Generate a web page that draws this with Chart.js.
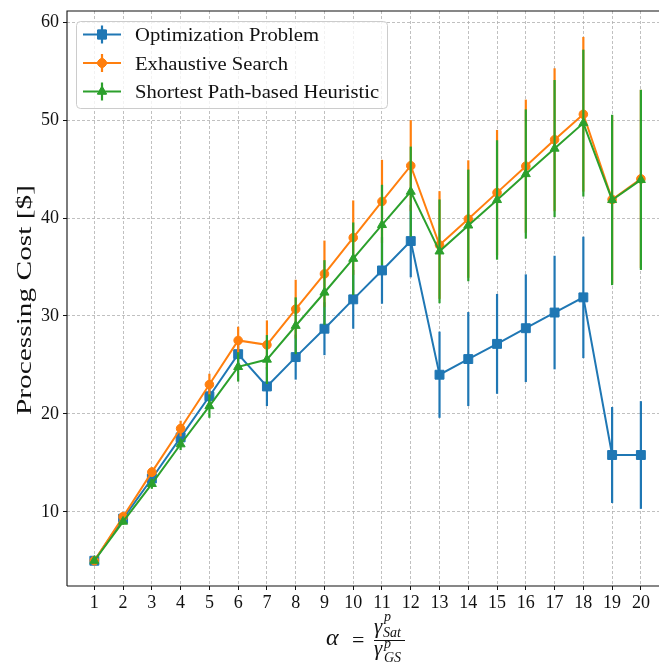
<!DOCTYPE html>
<html>
<head>
<meta charset="utf-8">
<script src="https://cdn.jsdelivr.net/npm/chart.js@4.4.0/dist/chart.umd.min.js"></script>
<style>
  html, body { margin: 0; padding: 0; background: #fff; overflow: hidden; width: 659px; height: 665px; }
  canvas { display: block; }
</style>
</head>
<body>
<canvas id="c" width="659" height="665"></canvas>
<script>
// alpha values on the horizontal axis
const alphaValues = [1, 2, 3, 4, 5, 6, 7, 8, 9, 10, 11, 12, 13, 14, 15, 16, 17, 18, 19, 20];
const yTickValues = [10, 20, 30, 40, 50, 60];

const seriesNames = ['Optimization Problem', 'Exhaustive Search', 'Shortest Path-based Heuristic'];

// mean processing cost per alpha
const optimizationCost = [5.0, 9.3, 13.4, 17.6, 21.8, 26.1, 22.8, 25.8, 28.7, 31.7, 34.65, 37.65, 24.0, 25.6, 27.15, 28.75, 30.35, 31.9, 15.8, 15.8];
const exhaustiveCost   = [5.0, 9.5, 14.05, 18.5, 23.0, 27.5, 27.05, 30.7, 34.3, 38.0, 41.7, 45.35, 37.25, 39.9, 42.6, 45.3, 48.0, 50.6, 41.9, 44.0];
const heuristicCost    = [5.0, 9.0, 12.85, 16.9, 20.8, 24.8, 25.55, 29.0, 32.4, 35.85, 39.3, 42.7, 36.6, 39.25, 41.85, 44.5, 47.1, 49.7, 41.85, 43.9];

// symmetric error (standard deviation) per alpha
const optimizationErr = [0.1, 0.3, 0.5, 0.7, 1.0, 1.3, 2.0, 2.3, 2.7, 3.0, 3.4, 3.7, 4.4, 4.8, 5.1, 5.5, 5.8, 6.2, 4.9, 5.5];
const exhaustiveErr   = [0.1, 0.3, 0.5, 0.8, 1.1, 1.4, 2.5, 3.0, 3.4, 3.8, 4.25, 4.65, 5.5, 6.0, 6.4, 6.8, 7.3, 7.9, 8.6, 9.1];
const heuristicErr    = [0.1, 0.3, 0.5, 0.6, 1.2, 1.5, 2.5, 2.9, 3.3, 3.7, 4.1, 4.6, 5.3, 5.7, 6.1, 6.6, 7.0, 7.5, 8.7, 9.2];

const COLORS = ['#1f77b4', '#ff7f0e', '#2ca02c'];
const MARKERS = ['rect', 'circle', 'triangle'];
const RADII = [6.3, 4.3, 5.2];
const FONT = '"Liberation Serif", "DejaVu Serif", serif';

const means = [optimizationCost, exhaustiveCost, heuristicCost];
const errors = [optimizationErr, exhaustiveErr, heuristicErr];

const datasets = seriesNames.map((name, i) => ({
  label: name,
  data: alphaValues.map((a, j) => ({ x: a, y: means[i][j] })),
  errors: errors[i],
  borderColor: COLORS[i],
  backgroundColor: COLORS[i],
  borderWidth: 2,
  pointStyle: MARKERS[i],
  pointRadius: RADII[i],
  pointBorderWidth: 1,
  pointBorderColor: COLORS[i],
  pointBackgroundColor: COLORS[i],
  tension: 0,
  order: 3 - i
}));

// vertical error bars, drawn just before each series' line and markers
const errorBars = {
  id: 'errorBars',
  beforeDatasetDraw(chart, args) {
    const ds = chart.data.datasets[args.index];
    const xs = chart.scales.x, ys = chart.scales.y;
    const ctx = chart.ctx, area = chart.chartArea;
    ctx.save();
    ctx.beginPath();
    ctx.rect(area.left, area.top, area.right - area.left, area.bottom - area.top);
    ctx.clip();
    ctx.strokeStyle = ds.borderColor;
    ctx.lineWidth = 2.2;
    ds.data.forEach((p, j) => {
      const e = ds.errors[j];
      const x = xs.getPixelForValue(p.x);
      ctx.beginPath();
      ctx.moveTo(x, ys.getPixelForValue(p.y - e));
      ctx.lineTo(x, ys.getPixelForValue(p.y + e));
      ctx.stroke();
    });
    ctx.restore();
  }
};

function drawStretched(ctx, text, x, y, sx) {
  ctx.save();
  ctx.translate(x, y);
  ctx.scale(sx, 1);
  ctx.fillText(text, 0, 0);
  ctx.restore();
}

// axis frame, axis titles and legend
const decorations = {
  id: 'decorations',
  afterDatasetsDraw(chart) {
    const ctx = chart.ctx, a = chart.chartArea;
    ctx.save();
    ctx.strokeStyle = '#111';
    ctx.lineWidth = 1.1;
    ctx.beginPath();
    ctx.moveTo(a.left, a.bottom); ctx.lineTo(a.left, a.top); ctx.lineTo(a.right + 2, a.top);
    ctx.moveTo(a.left, a.bottom); ctx.lineTo(a.right + 2, a.bottom);
    ctx.stroke();
    ctx.restore();
  },
  afterDraw(chart) {
    const ctx = chart.ctx;
    ctx.save();
    ctx.fillStyle = '#111';

    // y axis title
    ctx.font = '22px ' + FONT;
    const yTitle = 'Processing Cost [$]';
    const yw = ctx.measureText(yTitle).width;
    const ysx = 230 / yw;
    ctx.save();
    ctx.translate(31, 300);
    ctx.rotate(-Math.PI / 2);
    ctx.textAlign = 'left';
    ctx.textBaseline = 'alphabetic';
    drawStretched(ctx, yTitle, -115, 0, ysx);
    ctx.restore();

    // x axis title: alpha = gamma^p_Sat / gamma^p_GS
    ctx.textAlign = 'left';
    ctx.textBaseline = 'alphabetic';
    ctx.font = 'italic 24px ' + FONT;
    ctx.fillText('α', 326, 645);
    ctx.font = '22px ' + FONT;
    ctx.fillText('=', 352, 647);
    ctx.lineWidth = 1;
    ctx.strokeStyle = '#111';
    ctx.beginPath();
    ctx.moveTo(374, 640.5); ctx.lineTo(405, 640.5);
    ctx.stroke();
    ctx.font = 'italic 21px ' + FONT;
    ctx.fillText('γ', 374, 633);
    ctx.fillText('γ', 374, 655);
    ctx.font = 'italic 14px ' + FONT;
    ctx.fillText('p', 384, 621);
    ctx.fillText('Sat', 383, 637);
    ctx.fillText('p', 384, 648);
    ctx.fillText('GS', 384, 662);

    // legend
    const lx = 76.5, ly = 21.5, lw = 311, lh = 87;
    ctx.beginPath();
    ctx.roundRect(lx, ly, lw, lh, 4);
    ctx.fillStyle = 'rgba(255,255,255,0.8)';
    ctx.fill();
    ctx.strokeStyle = '#cccccc';
    ctx.lineWidth = 1;
    ctx.stroke();

    ctx.font = '18px ' + FONT;
    const lsx = 184 / ctx.measureText(seriesNames[0]).width;
    const rows = [34.5, 63, 91.5];
    chart.data.datasets.forEach((ds, i) => {
      const yy = rows[i];
      ctx.strokeStyle = ds.borderColor;
      ctx.lineWidth = 2;
      ctx.beginPath();
      ctx.moveTo(83, yy); ctx.lineTo(121, yy);
      ctx.stroke();
      ctx.lineWidth = 2.2;
      ctx.beginPath();
      ctx.moveTo(102, yy - 9); ctx.lineTo(102, yy + 9);
      ctx.stroke();
      ctx.lineWidth = 1;
      ctx.fillStyle = ds.backgroundColor;
      Chart.helpers.drawPoint(ctx, { pointStyle: ds.pointStyle, radius: ds.pointRadius, borderWidth: 1, rotation: 0 }, 102, yy);
      ctx.fill();
      ctx.stroke();
      ctx.fillStyle = '#111';
      ctx.font = '18px ' + FONT;
      drawStretched(ctx, ds.label, 135, yy + 6.5, lsx);
    });
    ctx.restore();
  }
};

new Chart(document.getElementById('c'), {
  type: 'line',
  data: { datasets },
  options: {
    responsive: false,
    animation: false,
    devicePixelRatio: 1,
    layout: { autoPadding: false, padding: { top: 11, left: 0, right: 0, bottom: 0 } },
    plugins: { legend: { display: false }, tooltip: { enabled: false } },
    scales: {
      x: {
        type: 'linear',
        min: 0.05,
        max: 20.63,
        afterBuildTicks: s => { s.ticks = alphaValues.map(v => ({ value: v })); },
        afterFit: s => { s.height = 79; s.paddingLeft = 0; s.paddingRight = 0; },
        grid: { color: '#b0b0b0', lineWidth: 0.8, tickLength: 4, tickColor: '#111', tickWidth: 1 },
        border: { display: false, dash: [3, 2] },
        ticks: { color: '#111', font: { family: FONT, size: 18 }, padding: 2, maxRotation: 0, autoSkip: false }
      },
      y: {
        type: 'linear',
        min: 2.42,
        max: 61.15,
        afterBuildTicks: s => { s.ticks = yTickValues.map(v => ({ value: v })); },
        afterFit: s => { s.width = 67; s.paddingTop = 0; s.paddingBottom = 0; },
        grid: { color: '#b0b0b0', lineWidth: 0.8, tickLength: 4, tickColor: '#111', tickWidth: 1 },
        border: { display: false, dash: [3, 2] },
        ticks: { color: '#111', font: { family: FONT, size: 18 }, padding: 4 }
      }
    }
  },
  plugins: [errorBars, decorations]
});
</script>
</body>
</html>
